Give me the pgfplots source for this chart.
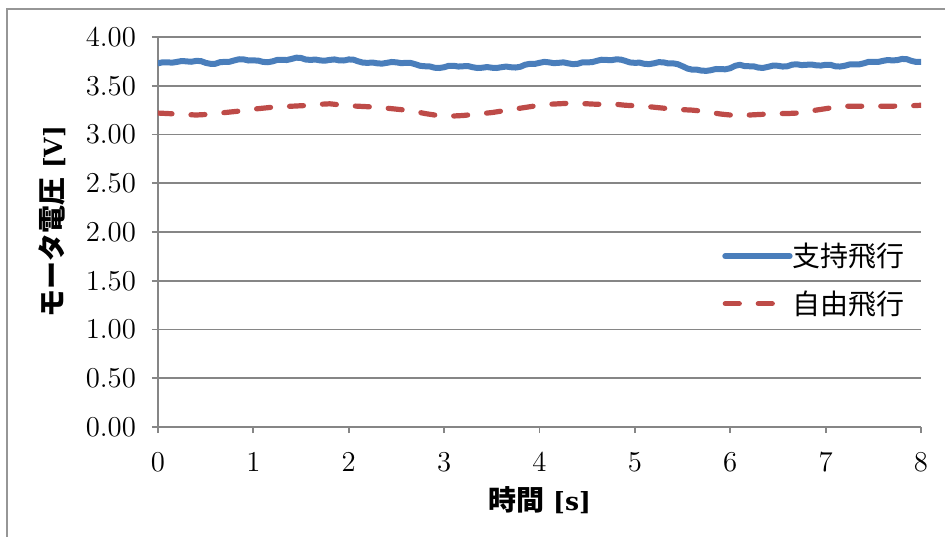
\documentclass[border=0pt]{standalone}
\usepackage{pgfplots}
\pgfplotsset{compat=1.18}
\usepackage{fontspec}
\newfontfamily\jp{Noto Sans CJK JP}
\newfontfamily\unitfont{DejaVu Serif}

\definecolor{supblue}{RGB}{74,126,187}
\definecolor{freered}{RGB}{190,75,72}
\definecolor{gridgray}{RGB}{134,134,134}
\definecolor{framegray}{RGB}{150,150,150}

% supported flight (tethered)
\pgfplotstableread{
t v
0.00 3.730
0.05 3.741
0.10 3.740
0.15 3.737
0.20 3.745
0.25 3.754
0.30 3.750
0.35 3.746
0.40 3.755
0.45 3.753
0.50 3.735
0.55 3.725
0.60 3.725
0.65 3.742
0.70 3.745
0.75 3.746
0.80 3.760
0.85 3.772
0.90 3.770
0.95 3.759
1.00 3.760
1.05 3.758
1.10 3.745
1.15 3.741
1.20 3.750
1.25 3.765
1.30 3.765
1.35 3.764
1.40 3.775
1.45 3.788
1.50 3.785
1.55 3.769
1.60 3.765
1.65 3.769
1.70 3.760
1.75 3.757
1.80 3.765
1.85 3.770
1.90 3.760
1.95 3.759
2.00 3.770
2.05 3.767
2.10 3.750
2.15 3.737
2.20 3.735
2.25 3.738
2.30 3.730
2.35 3.727
2.40 3.735
2.45 3.744
2.50 3.740
2.55 3.732
2.60 3.735
2.65 3.734
2.70 3.720
2.75 3.704
2.80 3.700
2.85 3.698
2.90 3.685
2.95 3.682
3.00 3.690
3.05 3.705
3.10 3.705
3.15 3.697
3.20 3.700
3.25 3.702
3.30 3.690
3.35 3.682
3.40 3.685
3.45 3.692
3.50 3.685
3.55 3.682
3.60 3.690
3.65 3.697
3.70 3.690
3.75 3.687
3.80 3.695
3.85 3.716
3.90 3.725
3.95 3.724
4.00 3.735
4.05 3.745
4.10 3.740
4.15 3.732
4.20 3.735
4.25 3.740
4.30 3.730
4.35 3.722
4.40 3.725
4.45 3.740
4.50 3.740
4.55 3.742
4.60 3.755
4.65 3.767
4.70 3.765
4.75 3.762
4.80 3.770
4.85 3.769
4.90 3.755
4.95 3.739
5.00 3.735
5.05 3.737
5.10 3.725
5.15 3.722
5.20 3.730
5.25 3.742
5.30 3.740
5.35 3.729
5.40 3.730
5.45 3.721
5.50 3.700
5.55 3.677
5.60 3.665
5.65 3.665
5.70 3.655
5.75 3.653
5.80 3.660
5.85 3.672
5.90 3.670
5.95 3.669
6.00 3.680
6.05 3.704
6.10 3.715
6.15 3.702
6.20 3.700
6.25 3.698
6.30 3.685
6.35 3.684
6.40 3.695
6.45 3.707
6.50 3.705
6.55 3.697
6.60 3.700
6.65 3.717
6.70 3.720
6.75 3.712
6.80 3.715
6.85 3.718
6.90 3.710
6.95 3.707
7.00 3.715
7.05 3.715
7.10 3.700
7.15 3.697
7.20 3.705
7.25 3.718
7.30 3.720
7.35 3.719
7.40 3.730
7.45 3.745
7.50 3.745
7.55 3.744
7.60 3.755
7.65 3.764
7.70 3.760
7.75 3.763
7.80 3.775
7.85 3.773
7.90 3.755
7.95 3.744
8.00 3.745
}\supported

% free flight
\pgfplotstableread{
t v
0.0 3.220
0.1 3.215
0.2 3.210
0.3 3.205
0.4 3.200
0.5 3.205
0.6 3.215
0.7 3.225
0.8 3.235
0.9 3.245
1.0 3.260
1.1 3.270
1.2 3.280
1.3 3.285
1.4 3.290
1.5 3.295
1.6 3.300
1.7 3.310
1.8 3.315
1.9 3.305
2.0 3.295
2.1 3.290
2.2 3.285
2.3 3.280
2.4 3.270
2.5 3.260
2.6 3.250
2.7 3.235
2.8 3.215
2.9 3.200
3.0 3.195
3.1 3.190
3.2 3.195
3.3 3.205
3.4 3.215
3.5 3.225
3.6 3.240
3.7 3.255
3.8 3.270
3.9 3.285
4.0 3.300
4.1 3.310
4.2 3.315
4.3 3.320
4.4 3.320
4.5 3.315
4.6 3.310
4.7 3.310
4.8 3.310
4.9 3.300
5.0 3.295
5.1 3.290
5.2 3.280
5.3 3.270
5.4 3.260
5.5 3.255
5.6 3.250
5.7 3.240
5.8 3.225
5.9 3.210
6.0 3.200
6.1 3.195
6.2 3.200
6.3 3.205
6.4 3.210
6.5 3.215
6.6 3.215
6.7 3.220
6.8 3.235
6.9 3.250
7.0 3.265
7.1 3.280
7.2 3.290
7.3 3.290
7.4 3.290
7.5 3.290
7.6 3.290
7.7 3.290
7.8 3.295
7.9 3.295
8.0 3.300
}\free

\begin{document}
\begin{tikzpicture}
\useasboundingbox (-79pt,-54.5pt) rectangle (393.5pt,213.5pt);
% chart frame
\draw[framegray, line width=1pt] (-75.25pt,-60pt) -- (-75.25pt,208.75pt) -- (400pt,208.75pt);
\begin{axis}[
  scale only axis,
  width=381.5pt, height=195pt,
  xmin=0, xmax=8, ymin=0, ymax=4,
  axis x line=bottom, axis y line=left,
  axis line style={-, gridgray, line width=0.9pt},
  xtick={0,1,...,8},
  ytick={0,0.5,...,4},
  tick align=outside,
  major tick length=3pt,
  tick style={gridgray, line width=0.9pt},
  ymajorgrids,
  grid style={gridgray, line width=0.9pt},
  yticklabel style={/pgf/number format/fixed, /pgf/number format/fixed zerofill, /pgf/number format/precision=2},
  tick label style={font=\fontsize{13.5}{16}\selectfont, text=black},
  yticklabel style={xshift=-4.5pt},
  xticklabel style={yshift=-6.5pt},
  xlabel={{\jp\bfseries 時間} {\unitfont\bfseries\fontsize{12.5}{16}\selectfont [s]}},
  ylabel={{\jp\bfseries モータ電圧} {\unitfont\bfseries\fontsize{12.5}{16}\selectfont [V]}},
  label style={font=\fontsize{14}{16}\selectfont},
  xlabel style={at={(axis description cs:0.5,-0.187)}, anchor=center},
  ylabel style={at={(axis description cs:-0.139,0.526)}, anchor=center},
  legend style={draw=none, fill=none, inner sep=0pt,
    at={(axis description cs:0.739,0.377)}, anchor=west,
    font=\fontsize{14}{16}\selectfont\jp, row sep=10.5pt,
    nodes={inner sep=0pt}},
  legend cell align=left,
  legend image code/.code={\draw[#1] (1.4pt,0pt) -- (33.6pt,0pt);},
  legend style={/tikz/every even column/.append style={column sep=7pt}},
]
\addplot[supblue, line width=3pt, line cap=round, line join=round] table[x=t,y=v] {\supported};
\addlegendentry{支持飛行}
\addplot[freered, line width=2.6pt, line cap=round, line join=round, dash pattern=on 7pt off 9.5pt] table[x=t,y=v] {\free};
\addlegendentry{自由飛行}
\end{axis}
\end{tikzpicture}
\end{document}
